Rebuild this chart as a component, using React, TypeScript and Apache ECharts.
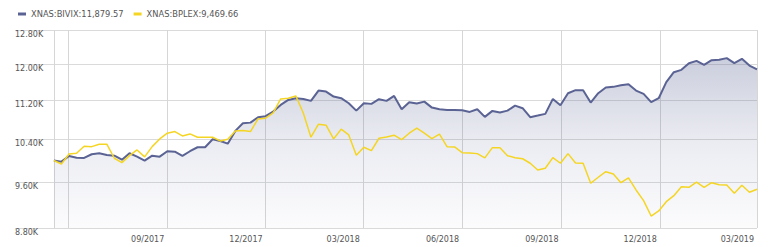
import React, { useEffect, useRef } from "react";
import * as echarts from "echarts";

// ---- data ----
const seriesNames = ["XNAS:BIVIX", "XNAS:BPLEX"];
const firstWeek = "2017-05-19"; // weekly points (Fridays)
const bivix = [
  10000, 9977, 10086, 10053, 10048, 10118, 10137, 10105, 10091, 10015,
  10137, 10072, 9996, 10091, 10072, 10176, 10168, 10086, 10176, 10253,
  10253, 10410, 10376, 10323, 10575, 10730, 10742, 10853, 10873, 10969,
  11108, 11214, 11250, 11235, 11193, 11414, 11392, 11285, 11250, 11144,
  10989, 11144, 11130, 11229, 11193, 11299, 11018, 11166, 11136, 11178,
  11052, 11018, 11004, 11004, 10998, 10962, 11018, 10859, 10983, 10948,
  10989, 11094, 11039, 10853, 10886, 10921, 11235, 11102, 11357, 11422,
  11422, 11157, 11357, 11479, 11494, 11531, 11553, 11414, 11342, 11166,
  11250, 11597, 11818, 11870, 12021, 12074, 11983, 12090, 12097, 12136,
  12021, 12120, 11967, 11879.57,
];
const bplex = [
  10000, 9934, 10124, 10137, 10273, 10265, 10312, 10312, 10042, 9958,
  10091, 10201, 10067, 10265, 10416, 10529, 10561, 10475, 10515, 10449,
  10449, 10449, 10376, 10410, 10575, 10581, 10561, 10818, 10832, 10941,
  11235, 11250, 11299, 10935, 10449, 10710, 10690, 10416, 10609, 10495,
  10099, 10253, 10187, 10429, 10455, 10489, 10402, 10529, 10629, 10529,
  10422, 10509, 10265, 10259, 10149, 10143, 10130, 10048, 10245, 10245,
  10091, 10053, 10032, 9947, 9822, 9853, 10053, 9947, 10130, 9953,
  9947, 9577, 9687, 9790, 9748, 9588, 9674, 9457, 9267, 9002,
  9088, 9249, 9355, 9516, 9505, 9596, 9505, 9588, 9552, 9547,
  9398, 9541, 9416, 9469.66,
];
const yTicks = [8800, 9600, 10400, 11200, 12000, 12800];
const xGridDates = [
  "2017-05-19", "2017-06-01", "2017-09-01", "2017-12-01", "2018-03-01",
  "2018-06-01", "2018-09-01", "2018-12-01", "2019-03-01",
];
const xLabelDates = [
  "2017-09-01", "2017-12-01", "2018-03-01", "2018-06-01",
  "2018-09-01", "2018-12-01", "2019-03-01",
];
const xAxisStart = "2017-04-13";
const xAxisEnd = "2019-03-01";

const DAY = 86400000;
const t0 = Date.parse(firstWeek);
const weekTimes = bivix.map((_, i) => t0 + i * 7 * DAY);

const fmtNum = (v: number) =>
  v.toLocaleString("en-US", { minimumFractionDigits: 2, maximumFractionDigits: 2 });
const lastValues: Record<string, number> = {
  [seriesNames[0]]: bivix[bivix.length - 1],
  [seriesNames[1]]: bplex[bplex.length - 1],
};

export default function App() {
  const ref = useRef<HTMLDivElement>(null);
  useEffect(() => {
    document.body.style.margin = "0";
    if (!ref.current) return;
    const chart = echarts.init(ref.current, undefined, { renderer: "svg" });
    const font = "DejaVu Sans";
    const option: any = {
      animation: false,
      textStyle: { fontFamily: font },
      legend: {
        left: 13,
        top: 5,
        icon: "rect",
        itemWidth: 8,
        itemHeight: 3,
        itemGap: 10,
        data: seriesNames,
        formatter: (name: string) => `${name}:${fmtNum(lastValues[name])}`,
        textStyle: { fontSize: 8.3, color: "#555", fontFamily: font },
      },
      grid: {
        left: 15,
        right: 11,
        top: 30,
        bottom: 19,
        containLabel: false,
        outerBoundsMode: "none",
      },
      xAxis: {
        type: "value",
        min: Date.parse(xAxisStart),
        max: Date.parse(xAxisEnd),
        axisLine: { show: false },
        axisTick: { show: false, customValues: xGridDates.map((d) => Date.parse(d)) },
        splitLine: { show: true, lineStyle: { color: "#d6d6d6", width: 1 } },
        axisLabel: {
          customValues: xLabelDates.map((d) => Date.parse(d)),
          formatter: (v: number) => {
            const d = new Date(v);
            const m = d.getUTCMonth() + 1;
            return `${m < 10 ? "0" + m : m}/${d.getUTCFullYear()}`;
          },
          align: "right",
          padding: [0, 3, 0, 0],
          margin: 7,
          fontSize: 8,
          color: "#555",
          fontFamily: font,
          showMinLabel: true,
          showMaxLabel: true,
          hideOverlap: false,
        },
      },
      yAxis: {
        type: "value",
        min: Math.log(yTicks[0]),
        max: Math.log(yTicks[yTicks.length - 1]),
        axisLine: { show: false },
        axisTick: { show: false, customValues: yTicks.map((v) => Math.log(v)) },
        splitLine: { show: true, lineStyle: { color: "#dadada", width: 1 } },
        axisLabel: {
          customValues: yTicks.map((v) => Math.log(v)),
          inside: true,
          margin: 0,
          verticalAlign: "top",
          align: "left",
          fontSize: 8,
          color: "#555",
          fontFamily: font,
          formatter: (v: number) => (Math.exp(v) / 1000).toFixed(2) + "K",
        },
      },
      series: [
        {
          name: seriesNames[0],
          type: "line",
          symbol: "none",
          data: bivix.map((v, i) => [weekTimes[i], Math.log(v)]),
          lineStyle: { color: "#5a6393", width: 2 },
          itemStyle: { color: "#5a6393" },
          areaStyle: {
            origin: "start",
            color: new echarts.graphic.LinearGradient(0, 0, 0, 1, [
              { offset: 0, color: "rgba(90,99,147,0.45)" },
              { offset: 0.5, color: "rgba(90,99,147,0.17)" },
              { offset: 1, color: "rgba(90,99,147,0.03)" },
            ]),
          },
          z: 2,
        },
        {
          name: seriesNames[1],
          type: "line",
          symbol: "none",
          data: bplex.map((v, i) => [weekTimes[i], Math.log(v)]),
          lineStyle: { color: "#f5d523", width: 1.5 },
          itemStyle: { color: "#f5d523" },
          z: 3,
        },
      ],
    };
    chart.setOption(option);
    return () => chart.dispose();
  }, []);
  return <div ref={ref} style={{ width: 768, height: 247 }} />;
}
